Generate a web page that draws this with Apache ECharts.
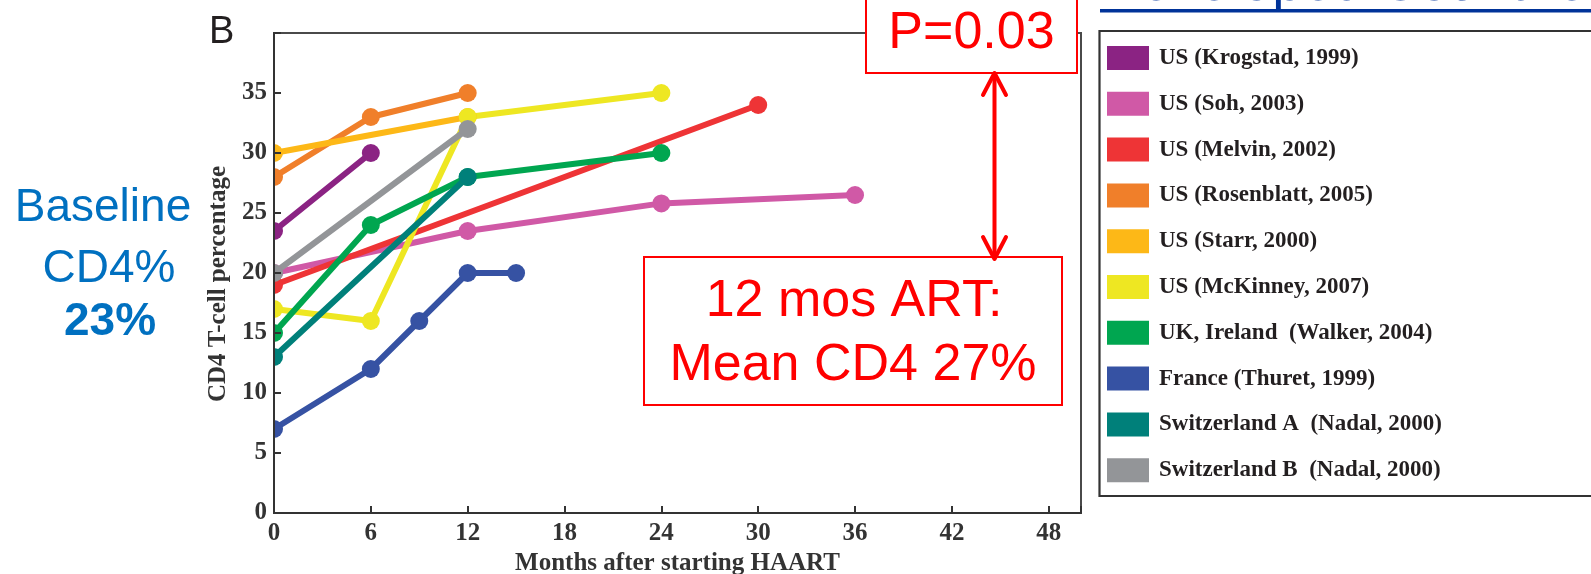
<!DOCTYPE html>
<html>
<head>
<meta charset="utf-8">
<script src="https://cdn.jsdelivr.net/npm/echarts@6/dist/echarts.min.js"></script>
<style>
  html, body { margin: 0; padding: 0; background: #ffffff; }
  #chart { width: 1591px; height: 574px; }
</style>
</head>
<body>
<div id="chart"></div>
<script>
// Study labels (legend order) and one [month, CD4%] list per cohort
const studyNames = [
  'US (Krogstad, 1999)',
  'US (Soh, 2003)',
  'US (Melvin, 2002)',
  'US (Rosenblatt, 2005)',
  'US (Starr, 2000)',
  'US (McKinney, 2007)',
  'UK, Ireland  (Walker, 2004)',
  'France (Thuret, 1999)',
  'Switzerland A  (Nadal, 2000)',
  'Switzerland B  (Nadal, 2000)'
];
const krogstad   = [[0, 23.5], [6, 30]];
const soh        = [[0, 20], [12, 23.5], [24, 25.8], [36, 26.5]];
const melvin     = [[0, 19], [30, 34]];
const rosenblatt = [[0, 28], [6, 33], [12, 35]];
const starr      = [[0, 30], [12, 33]];
const mckinney   = [[0, 17], [6, 16], [12, 33], [24, 35]];
const walker     = [[0, 15], [6, 24], [12, 28], [24, 30]];
const thuret     = [[0, 7], [6, 12], [9, 16], [12, 20], [15, 20]];
const nadalA     = [[0, 13], [12, 28]];
const nadalB     = [[0, 20], [12, 32]];
const cohortData = [krogstad, soh, melvin, rosenblatt, starr, mckinney, walker, thuret, nadalA, nadalB];

const cohortColors = ['#8b2383', '#d059a6', '#ee3436', '#f07f2a', '#fdb817',
                      '#eee722', '#00a650', '#3652a3', '#00807a', '#939598'];

// Annotation texts
const panelLetter = 'B';
const baselineLines = ['Baseline', 'CD4%', '23%'];
const pValueText = 'P=0.03';
const outcomeLines = ['12 mos ART:', 'Mean CD4 27%'];
const headingText = 'Developed Countries';
const xTitle = 'Months after starting HAART';
const yTitle = 'CD4 T-cell percentage';

const SERIF = "'Liberation Serif', 'DejaVu Serif', serif";
const SANS = "'Liberation Sans', Arial, sans-serif";
const AXIS_INK = '#333333';

const chart = echarts.init(document.getElementById('chart'), null, { renderer: 'canvas' });

const series = cohortData.map((pts, i) => ({
  name: studyNames[i],
  type: 'line',
  data: pts,
  symbol: 'circle',
  symbolSize: 18,
  clip: true,
  lineStyle: { width: 6, color: cohortColors[i], cap: 'round', join: 'round' },
  itemStyle: { color: cohortColors[i] },
  emphasis: { disabled: true }
}));

const red = '#ff0000';

const option = {
  animation: false,
  backgroundColor: '#ffffff',
  grid: {
    left: 274, right: 510, top: 33, bottom: 61,
    show: true, borderColor: '#4a4a4a', borderWidth: 2,
    containLabel: false, outerBoundsMode: 'none'
  },
  xAxis: {
    type: 'value', min: 0, max: 50, interval: 6,
    axisLine: { show: true, lineStyle: { color: AXIS_INK, width: 2 } },
    axisTick: { show: true, inside: true, length: 7, lineStyle: { color: AXIS_INK, width: 2 } },
    axisLabel: {
      margin: 8, fontFamily: SERIF, fontWeight: 'bold', fontSize: 25, color: AXIS_INK,
      formatter: v => (v > 48 ? '' : String(v))
    },
    splitLine: { show: false },
    name: xTitle, nameLocation: 'middle', nameGap: 33,
    nameTextStyle: { fontFamily: SERIF, fontWeight: 'bold', fontSize: 25, color: AXIS_INK }
  },
  yAxis: {
    type: 'value', min: 0, max: 40, interval: 5, zlevel: 1, z: 5,
    axisLine: { show: true, lineStyle: { color: AXIS_INK, width: 2 } },
    axisTick: { show: true, inside: true, length: 7, lineStyle: { color: AXIS_INK, width: 2 } },
    axisLabel: {
      margin: 7, fontFamily: SERIF, fontWeight: 'bold', fontSize: 25, color: AXIS_INK,
      formatter: v => (v >= 40 ? '' : String(v))
    },
    splitLine: { show: false },
    name: yTitle, nameLocation: 'middle', nameGap: 40,
    nameTextStyle: { fontFamily: SERIF, fontWeight: 'bold', fontSize: 25, color: AXIS_INK, padding: [0, 22, 0, 0] }
  },
  legend: {
    orient: 'vertical', left: 1107, top: 46, padding: 0,
    itemWidth: 42, itemHeight: 24, itemGap: 21.8, icon: 'rect',
    selectedMode: false,
    textStyle: { fontFamily: SERIF, fontWeight: 'bold', fontSize: 23, color: '#231f20', padding: [0, 0, 0, 5] },
    data: studyNames
  },
  series: series,
  graphic: [
    // white strip left of the y axis so markers sitting on month 0 show as half dots
    { type: 'rect', zlevel: 1, z: 3, silent: true, shape: { x: 252, y: 28, width: 21, height: 487 }, style: { fill: '#ffffff' } },
    // panel letter
    { type: 'text', z: 10, x: 209, y: 33, style: { text: panelLetter, font: '38px ' + SANS, fill: '#231f20', verticalAlign: 'middle' } },
    // baseline note
    { type: 'text', z: 10, x: 103, y: 208, style: { text: baselineLines[0], font: '46px ' + SANS, fill: '#0070c0', align: 'center', verticalAlign: 'middle' } },
    { type: 'text', z: 10, x: 109, y: 269, style: { text: baselineLines[1], font: '46px ' + SANS, fill: '#0070c0', align: 'center', verticalAlign: 'middle' } },
    { type: 'text', z: 10, x: 110, y: 322, style: { text: baselineLines[2], font: 'bold 46px ' + SANS, fill: '#0070c0', align: 'center', verticalAlign: 'middle' } },
    // heading, clipped at the top edge
    { type: 'text', z: 10, x: 1101, y: -15, style: { text: headingText, font: '55px ' + SANS, fill: '#003399', verticalAlign: 'middle' } },
    { type: 'rect', z: 10, shape: { x: 1100, y: 9, width: 520, height: 3.5 }, style: { fill: '#003399' } },
    // legend frame
    { type: 'rect', z: 1, shape: { x: 1099.5, y: 31, width: 620, height: 465 }, style: { fill: 'none', stroke: '#333333', lineWidth: 2.2 } },
    // P value box
    { type: 'rect', z: 10, shape: { x: 866, y: -10, width: 211, height: 83 }, style: { fill: '#ffffff', stroke: red, lineWidth: 2 } },
    { type: 'text', z: 11, x: 971.5, y: 34, style: { text: pValueText, font: '52px ' + SANS, fill: red, align: 'center', verticalAlign: 'middle' } },
    // outcome box
    { type: 'rect', z: 10, shape: { x: 644, y: 257, width: 418, height: 148 }, style: { fill: '#ffffff', stroke: red, lineWidth: 2 } },
    { type: 'text', z: 11, x: 854, y: 302, style: { text: outcomeLines[0], font: '52px ' + SANS, fill: red, align: 'center', verticalAlign: 'middle' } },
    { type: 'text', z: 11, x: 853, y: 366, style: { text: outcomeLines[1], font: '52px ' + SANS, fill: red, align: 'center', verticalAlign: 'middle' } },
    // double-headed arrow between the boxes
    { type: 'line', z: 12, shape: { x1: 994.5, y1: 74, x2: 994.5, y2: 257 }, style: { stroke: red, lineWidth: 4 } },
    { type: 'polyline', z: 12, shape: { points: [[983, 95], [994.5, 73], [1006, 95]] }, style: { stroke: red, lineWidth: 4, fill: 'none', lineCap: 'round', lineJoin: 'round' } },
    { type: 'polyline', z: 12, shape: { points: [[983, 237], [994.5, 259], [1006, 237]] }, style: { stroke: red, lineWidth: 4, fill: 'none', lineCap: 'round', lineJoin: 'round' } }
  ]
};

chart.setOption(option);
</script>
</body>
</html>
